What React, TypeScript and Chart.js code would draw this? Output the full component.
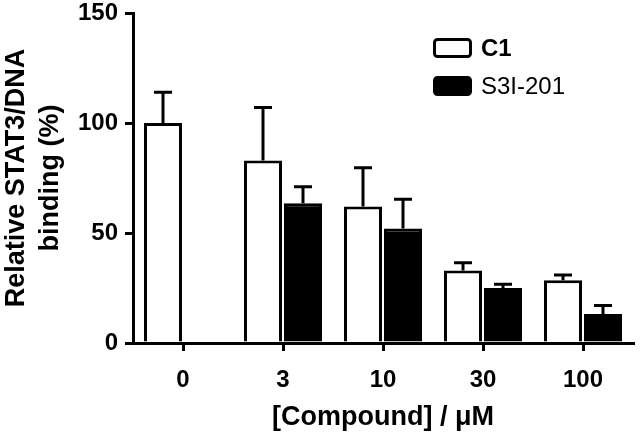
import React, { useEffect, useRef } from "react";
import { Chart, registerables } from "chart.js";

Chart.register(...registerables);

const categories = ["0", "3", "10", "30", "100"];
const c1Mean: (number | null)[] = [100, 83, 62, 33, 28.5];
const c1Err: (number | null)[] = [14, 24, 17.7, 3.5, 2.4];
const s3iMean: (number | null)[] = [null, 63.5, 52, 25, 13.2];
const s3iErr: (number | null)[] = [null, 7.5, 13.3, 1.7, 3.8];
const seriesNames = ["C1", "S3I-201"];
const yTitle = ["Relative STAT3/DNA", "binding (%)"];
const xTitle = "[Compound] / \u03bcM";

const FONT = "'Liberation Sans', Arial, Helvetica, sans-serif";

const errorBarPlugin = {
  id: "errorBars",
  afterDatasetsDraw(chart: any) {
    const ctx = chart.ctx;
    const yScale = chart.scales.y;
    chart.data.datasets.forEach((ds: any, di: number) => {
      const meta = chart.getDatasetMeta(di);
      const errs = ds.errors as (number | null)[];
      meta.data.forEach((el: any, i: number) => {
        const v = ds.data[i];
        const e = errs[i];
        if (v == null || e == null) return;
        const x = el.x;
        const yTop = yScale.getPixelForValue(v);
        const yErr = yScale.getPixelForValue(v + e);
        ctx.save();
        ctx.strokeStyle = "#000";
        ctx.lineWidth = 3;
        ctx.beginPath();
        ctx.moveTo(x, yTop);
        ctx.lineTo(x, yErr);
        ctx.moveTo(x - 9, yErr);
        ctx.lineTo(x + 9, yErr);
        ctx.stroke();
        ctx.restore();
      });
    });
  },
};

const legendPlugin = {
  id: "customLegend",
  afterDraw(chart: any) {
    const ctx = chart.ctx;
    const x0 = 434.5;
    const items = [
      { name: seriesNames[0], fill: "#ffffff", bold: true, y: 39.5 },
      { name: seriesNames[1], fill: "#000000", bold: false, y: 77.5 },
    ];
    ctx.save();
    items.forEach((it) => {
      ctx.beginPath();
      (ctx as any).roundRect(x0, it.y, 36, 17, 3);
      ctx.fillStyle = it.fill;
      ctx.fill();
      ctx.lineWidth = 3;
      ctx.strokeStyle = "#000";
      ctx.stroke();
      ctx.fillStyle = "#000";
      ctx.font = `${it.bold ? "bold " : ""}24px ${FONT}`;
      ctx.textBaseline = "middle";
      ctx.textAlign = "left";
      ctx.fillText(it.name, 481, it.y + 9.5);
    });
    ctx.restore();
  },
};

export default function App() {
  const ref = useRef<HTMLCanvasElement | null>(null);
  useEffect(() => {
    if (!ref.current) return;
    const chart = new Chart(ref.current, {
      type: "bar",
      data: {
        labels: categories,
        datasets: [
          {
            label: seriesNames[0],
            data: c1Mean,
            errors: c1Err,
            backgroundColor: "#ffffff",
            borderColor: "#000000",
            borderWidth: 3,
            categoryPercentage: 0.8,
            barPercentage: 0.95,
          } as any,
          {
            label: seriesNames[1],
            data: s3iMean,
            errors: s3iErr,
            backgroundColor: "#000000",
            borderColor: "#000000",
            borderWidth: 3,
            categoryPercentage: 0.8,
            barPercentage: 0.95,
          } as any,
        ],
      },
      options: {
        responsive: false,
        animation: false,
        devicePixelRatio: 1,
        layout: { padding: { top: 13, right: 8, left: 0, bottom: 0 } },
        plugins: {
          legend: { display: false },
          tooltip: { enabled: false },
        },
        scales: {
          x: {
            offset: true,
            grid: {
              offset: false,
              drawOnChartArea: false,
              drawTicks: true,
              tickLength: 8,
              lineWidth: 3,
              color: "#000",
            },
            border: { display: true, color: "#000", width: 3 },
            ticks: {
              color: "#000",
              font: { family: FONT, size: 24, weight: "bold" },
              padding: 15,
            },
            title: {
              display: true,
              text: xTitle,
              color: "#000",
              font: { family: FONT, size: 27, weight: "bold" },
              padding: { top: 0, bottom: 3 },
            },
            afterFit(scale: any) {
              scale.height = 94;
              scale.paddingLeft = 0;
              scale.paddingRight = 0;
            },
          },
          y: {
            min: 0,
            max: 150,
            ticks: {
              stepSize: 50,
              color: "#000",
              font: { family: FONT, size: 24, weight: "bold" },
              padding: 7,
            },
            grid: {
              drawOnChartArea: false,
              drawTicks: true,
              tickLength: 8,
              lineWidth: 3,
              color: "#000",
            },
            border: { display: true, color: "#000", width: 3 },
            title: {
              display: true,
              text: yTitle,
              color: "#000",
              font: { family: FONT, size: 27, weight: "bold", lineHeight: 1.26 },
              padding: { top: 0, bottom: 0 },
            },
            afterFit(scale: any) {
              scale.width = 133;
              scale.paddingTop = 0;
              scale.paddingBottom = 0;
            },
          },
        },
      } as any,
      plugins: [errorBarPlugin, legendPlugin],
    });
    return () => chart.destroy();
  }, []);
  return (
    <div style={{ position: "absolute", left: 0, top: 0, width: 641, height: 437, background: "#fff" }}>
      <canvas ref={ref} width={641} height={437} style={{ display: "block" }} />
    </div>
  );
}
